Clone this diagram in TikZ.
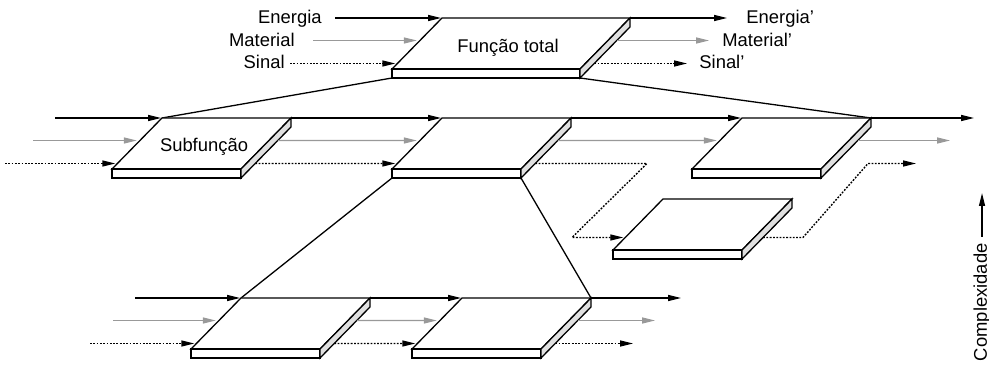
\documentclass[tikz,border=0pt]{standalone}
\usepackage{fontspec}
\setmainfont{Liberation Sans}
\usetikzlibrary{arrows.meta,calc}
\definecolor{graya}{HTML}{999999}
\definecolor{sideg}{HTML}{E0E0E0}
\tikzset{
  lbl/.style={inner sep=0pt, font=\fontsize{9.2pt}{10pt}\selectfont},
  slabline/.style={line width=0.65pt, draw=black, line join=miter},
  tipa/.style={-{Triangle[length=6.5pt,width=3pt]}},
  earrow/.style={line width=0.65pt, draw=black, tipa, shorten >=0.5pt},
  marrow/.style={line width=0.65pt, draw=graya, tipa, shorten >=1.5pt},
  sarrow/.style={line width=0.7pt, draw=black, dash pattern=on 0.9pt off 0.75pt, tipa, shorten >=1pt},
  link/.style={line width=0.65pt, draw=black},
}
\newcommand\mkslab[4]{%
 \coordinate (#1-tl) at (#2,#3);
 \coordinate (#1-tr) at (#2+#4,#3);
 \coordinate (#1-bl) at (#2-50,#3+51);
 \coordinate (#1-br) at (#2+#4-50,#3+51);
 \coordinate (#1-fbl) at (#2-50,#3+60);
 \coordinate (#1-fbr) at (#2+#4-50,#3+60);
 \coordinate (#1-tr2) at (#2+#4,#3+9);
 \coordinate (#1-lg) at ($(#1-tl)!0.4412!(#1-bl)$);
 \coordinate (#1-ld) at ($(#1-tl)!0.8922!(#1-bl)$);
 \coordinate (#1-rg) at ($(#1-tr2)!0.2647!(#1-fbr)$);
 \coordinate (#1-rd) at ($(#1-tr2)!0.7157!(#1-fbr)$);
}
\newcommand\drawslab[1]{%
 \filldraw[slabline, fill=white] (#1-tl) -- (#1-tr) -- (#1-br) -- (#1-bl) -- cycle;
 \filldraw[slabline, fill=white] (#1-bl) -- (#1-br) -- (#1-fbr) -- (#1-fbl) -- cycle;
 \filldraw[slabline, fill=sideg] (#1-br) -- (#1-tr) -- (#1-tr2) -- (#1-fbr) -- cycle;
}
\begin{document}
\begin{tikzpicture}[x=0.5pt,y=-0.5pt]
\useasboundingbox (0,0) rectangle (989,368);
% slabs geometry
\mkslab{top}{442}{18}{188}
\mkslab{sub}{162}{118}{129}
\mkslab{mid}{442}{118}{129}
\mkslab{thr}{742}{118}{129}
\mkslab{low}{663}{199}{129}
\mkslab{bo}{241}{298}{129}
\mkslab{bt}{462}{298}{129}
\coordinate (low-lx) at ($(low-tl)!0.755!(low-bl)$);
\coordinate (low-rx) at ($(low-tr2)!0.578!(low-fbr)$);
% hierarchy links
\draw[link] (top-fbl) -- (sub-tl);
\draw[link] (top-fbr) -- (thr-tr);
\draw[link] (mid-fbl) -- (bo-tl);
\draw[link] (mid-fbr) -- (bt-tr);
% slabs
\drawslab{top}
\drawslab{sub}
\drawslab{mid}
\drawslab{thr}
\drawslab{low}
\drawslab{bo}
\drawslab{bt}
\node[lbl, anchor=base] (ft) at (508,53) {Função total};
\node[lbl, anchor=base] (sf) at (204,152) {Subfunção};
% top labels and flows
\node[lbl, anchor=base east] (lE) at (322,24) {Energia};
\node[lbl, anchor=base east] (lM) at (295,46.5) {Material};
\node[lbl, anchor=base east] (lS) at (285,69) {Sinal};
\coordinate (eS) at (335,18);
\coordinate (mS) at (313,0 |- top-lg);
\coordinate (sS) at (290,0 |- top-ld);
\draw[earrow] (eS) -- (top-tl);
\draw[marrow] (mS) -- (top-lg);
\draw[sarrow] (sS) -- (top-ld);
\coordinate (eE) at (728,18);
\coordinate (mE) at (712,0 |- top-rg);
\coordinate (sE) at (689,0 |- top-rd);
\draw[earrow] (top-tr) -- (eE);
\draw[marrow] (top-rg) -- (mE);
\draw[sarrow] (top-rd) -- (sE);
\node[lbl, anchor=base west] (rE) at (746,24) {Energia'};
\node[lbl, anchor=base west] (rM) at (722,46.5) {Material'};
\node[lbl, anchor=base west] (rS) at (699,69) {Sinal'};
% middle row
\coordinate (m1) at (55,118);
\coordinate (m2) at (33,0 |- sub-lg);
\coordinate (m3) at (5,0 |- sub-ld);
\draw[earrow] (m1) -- (sub-tl);
\draw[marrow] (m2) -- (sub-lg);
\draw[sarrow] (m3) -- (sub-ld);
\draw[earrow] (sub-tr) -- (mid-tl);
\draw[marrow] (sub-rg) -- (mid-lg);
\draw[sarrow] (sub-rd) -- (mid-ld);
\draw[earrow] (mid-tr) -- (thr-tl);
\draw[marrow] (mid-rg) -- (thr-lg);
\coordinate (dA) at (647,0 |- mid-rd);
\coordinate (dB) at (572,0 |- low-lx);
\draw[sarrow] (mid-rd) -- (dA) -- (dB) -- (low-lx);
\coordinate (dC) at (803,0 |- low-rx);
\coordinate (dD) at (868,0 |- thr-ld);
\coordinate (dE) at (918,0 |- thr-ld);
\draw[sarrow] (low-rx) -- (dC) -- (dD) -- (dE);
\coordinate (tE) at (975,118);
\coordinate (tM) at (953,0 |- thr-rg);
\draw[earrow] (thr-tr) -- (tE);
\draw[marrow] (thr-rg) -- (tM);
% bottom row
\coordinate (b1) at (135,298);
\coordinate (b2) at (113,0 |- bo-lg);
\coordinate (b3) at (90,0 |- bo-ld);
\draw[earrow] (b1) -- (bo-tl);
\draw[marrow] (b2) -- (bo-lg);
\draw[sarrow] (b3) -- (bo-ld);
\draw[earrow] (bo-tr) -- (bt-tl);
\draw[marrow] (bo-rg) -- (bt-lg);
\draw[sarrow] (bo-rd) -- (bt-ld);
\coordinate (c1) at (682,298);
\coordinate (c2) at (658,0 |- bt-rg);
\coordinate (c3) at (635,0 |- bt-rd);
\draw[earrow] (bt-tr) -- (c1);
\draw[marrow] (bt-rg) -- (c2);
\draw[sarrow] (bt-rd) -- (c3);
% complexity axis
\coordinate (k0) at (982,237);
\coordinate (k1) at (982,192);
\draw[earrow] (k0) -- (k1);
\node[lbl, rotate=90, anchor=east] (kx) at (982,243) {Complexidade};
\end{tikzpicture}
\end{document}
